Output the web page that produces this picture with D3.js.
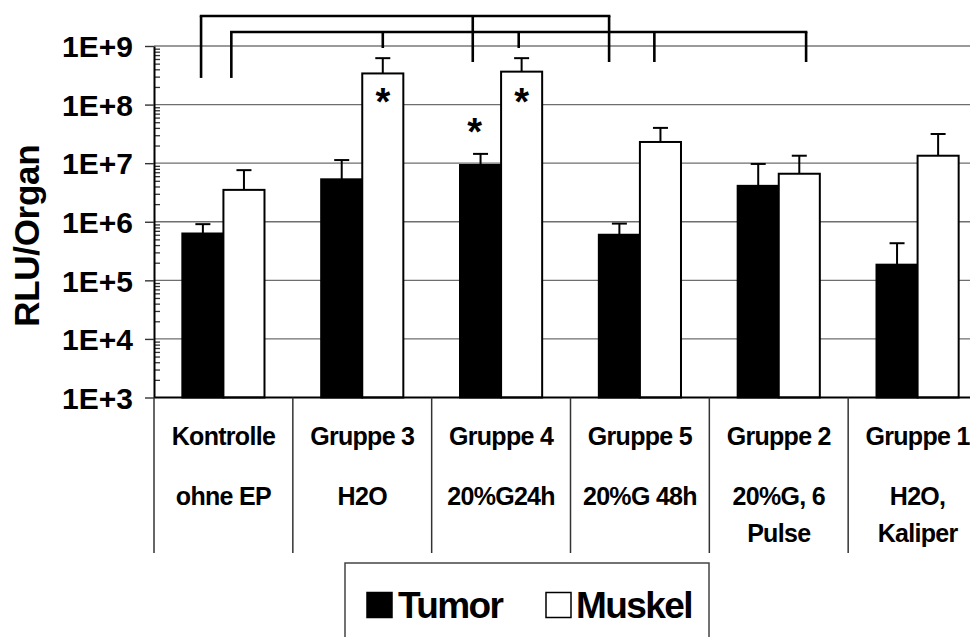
<!DOCTYPE html>
<html>
<head>
<meta charset="utf-8">
<script src="https://cdn.jsdelivr.net/npm/d3@7"></script>
<style>
  html, body { margin: 0; padding: 0; background: #fff; overflow: hidden; }
  svg { display: block; }
  text { font-family: "Liberation Sans", Arial, sans-serif; font-weight: bold; fill: #000; }
</style>
</head>
<body>
<svg id="chart" width="970" height="637"></svg>
<script>
// Group labels (one array entry per printed line)
const categoryLines = [
  ["Kontrolle", "ohne EP"],
  ["Gruppe 3", "H2O"],
  ["Gruppe 4", "20%G24h"],
  ["Gruppe 5", "20%G 48h"],
  ["Gruppe 2", "20%G, 6", "Pulse"],
  ["Gruppe 1", "H2O,", "Kaliper"]
];
const series = ["Tumor", "Muskel"];

// Mean RLU per organ and upper end of the error bar
const tumorMean   = [6.3e5, 5.3e6, 9.3e6, 6.0e5, 4.1e6, 1.85e5];
const tumorUpper  = [9.1e5, 1.13e7, 1.44e7, 9.3e5, 9.7e6, 4.3e5];
const muskelMean  = [3.5e6, 3.4e8, 3.65e8, 2.3e7, 6.6e6, 1.34e7];
const muskelUpper = [7.6e6, 6.2e8, 6.2e8, 4.0e7, 1.34e7, 3.15e7];

// Decade tick labels of the log axis
const majorTicks = [1e3, 1e4, 1e5, 1e6, 1e7, 1e8, 1e9];
const tickLabels = ["1E+3", "1E+4", "1E+5", "1E+6", "1E+7", "1E+8", "1E+9"];

// Significance markers: [group index, series, height]
const asterisks = [[1, "Muskel", 1.58e8], [2, "Muskel", 1.58e8], [2, "Tumor", 4.9e7]];

// Comparison brackets: bar position in group units, level of the bar and leg ends
const brackets = [
  { level: 3.25e9, legs: [[0.339, 2.85e8], [2.296, 5.33e8], [3.278, 5.33e8]] },
  { level: 1.73e9, legs: [[0.557, 2.85e8], [1.648, 9.25e8], [2.627, 9.25e8], [3.604, 5.33e8], [4.697, 5.33e8]] }
];

const svg = d3.select("#chart");
const plotLeft = 154, plotRight = 987, plotTop = 46, plotBottom = 397.5;

const y = d3.scaleLog().domain([1e3, 1e9]).range([plotBottom, plotTop]);
const x = d3.scaleBand().domain(d3.range(categoryLines.length)).range([plotLeft, plotRight]).padding(0);
const xs = d3.scaleBand().domain(series).range([0, x.bandwidth()]).paddingInner(0).paddingOuter(0.69);
const xu = d3.scaleLinear().domain([0, categoryLines.length]).range([plotLeft, plotRight]);

// Grid lines
svg.append("g").selectAll("line").data(majorTicks.slice(1)).join("line")
  .attr("x1", plotLeft).attr("x2", plotRight)
  .attr("y1", d => y(d)).attr("y2", d => y(d))
  .attr("stroke", (d, i) => i === 5 ? "#9a9a9a" : "#6e6e6e")
  .attr("stroke-width", (d, i) => i === 5 ? 2 : 1.4);

// Bars
const rows = [];
categoryLines.forEach((c, i) => {
  rows.push({ g: i, s: "Tumor", v: tumorMean[i], e: tumorUpper[i] });
  rows.push({ g: i, s: "Muskel", v: muskelMean[i], e: muskelUpper[i] });
});
const barX = d => x(d.g) + xs(d.s);
const barC = d => barX(d) + xs.bandwidth() / 2;

// Error bars (upper only)
const eb = svg.append("g").attr("stroke", "#000").attr("stroke-width", 2);
eb.selectAll("line.v").data(rows).join("line").attr("class", "v")
  .attr("x1", barC).attr("x2", barC)
  .attr("y1", d => y(d.v)).attr("y2", d => y(d.e));
eb.selectAll("line.c").data(rows).join("line").attr("class", "c")
  .attr("x1", d => barC(d) - 7.5).attr("x2", d => barC(d) + 7.5)
  .attr("y1", d => y(d.e)).attr("y2", d => y(d.e));

svg.append("g").selectAll("rect").data(rows).join("rect")
  .attr("x", barX)
  .attr("y", d => y(d.v))
  .attr("width", xs.bandwidth())
  .attr("height", d => y(1e3) - y(d.v))
  .attr("fill", d => d.s === "Tumor" ? "#000" : "#fff")
  .attr("stroke", "#000").attr("stroke-width", 2);

// Minor ticks (2..9 per decade), drawn inside the plot
const minor = [];
for (let k = 3; k < 9; k++) for (let m = 2; m <= 9; m++) minor.push(m * Math.pow(10, k));
svg.append("g").attr("transform", `translate(${plotLeft},0)`)
  .call(d3.axisRight(y).tickValues(minor).tickSize(6).tickFormat(""))
  .call(g => g.select(".domain").remove())
  .call(g => g.selectAll("line").attr("stroke", "#333").attr("stroke-width", 1.3));

// Y axis with decade labels
svg.append("g").attr("transform", `translate(${plotLeft},0)`)
  .call(d3.axisLeft(y).tickValues(majorTicks).tickSize(9).tickSizeOuter(0)
    .tickFormat((d, i) => tickLabels[i]))
  .call(g => g.select(".domain").attr("stroke", "#000").attr("stroke-width", 2))
  .call(g => g.selectAll("line").attr("stroke", "#333").attr("stroke-width", 1.4))
  .call(g => g.selectAll("text").attr("x", -21).attr("dy", "0.36em")
    .style("font-size", "30px").style("font-weight", "bold")
    .style("font-family", "'Liberation Sans', Arial, sans-serif").attr("fill", "#000"));

// X axis line and group separators
svg.append("line").attr("x1", plotLeft).attr("x2", plotRight).attr("y1", plotBottom).attr("y2", plotBottom)
  .attr("stroke", "#000").attr("stroke-width", 2);
svg.append("g").selectAll("line").data(d3.range(categoryLines.length + 1)).join("line")
  .attr("x1", d => xu(d)).attr("x2", d => xu(d))
  .attr("y1", plotBottom).attr("y2", 553)
  .attr("stroke", "#333").attr("stroke-width", 1.5);

// Group labels
const lineBase = [445, 505, 542];
categoryLines.forEach((lines, i) => {
  lines.forEach((t, j) => {
    svg.append("text")
      .attr("x", x(i) + x.bandwidth() / 2).attr("y", lineBase[j])
      .attr("text-anchor", "middle")
      .style("font-size", "25px").style("letter-spacing", "-0.7px")
      .text(t);
  });
});

// Y axis title
svg.append("text")
  .attr("transform", `translate(39,${(plotTop + plotBottom) / 2 + 14}) rotate(-90)`)
  .attr("text-anchor", "middle")
  .style("font-size", "35px").style("letter-spacing", "-0.3px")
  .text("RLU/Organ");

// Asterisks
svg.append("g").selectAll("text").data(asterisks).join("text")
  .attr("x", d => x(d[0]) + xs(d[1]) + xs.bandwidth() / 2 + (d[1] === "Tumor" ? -6 : 0))
  .attr("y", d => y(d[2]) + 22)
  .attr("text-anchor", "middle")
  .style("font-size", "38px")
  .text("*");

// Brackets
const bg = svg.append("g").attr("stroke", "#000").attr("stroke-width", 2.6).attr("fill", "none");
brackets.forEach(b => {
  const legX = b.legs.map(l => xu(l[0]));
  bg.append("line").attr("x1", d3.min(legX)).attr("x2", d3.max(legX))
    .attr("y1", y(b.level)).attr("y2", y(b.level)).attr("stroke-linecap", "square");
  b.legs.forEach(l => {
    bg.append("line").attr("x1", xu(l[0])).attr("x2", xu(l[0]))
      .attr("y1", y(b.level)).attr("y2", y(l[1]));
  });
});

// Legend
const lg = svg.append("g");
lg.append("rect").attr("x", 345).attr("y", 563).attr("width", 364).attr("height", 100)
  .attr("fill", "#fff").attr("stroke", "#444").attr("stroke-width", 1.5);
const legendItems = [
  { s: series[0], fill: "#000", sx: 367, tx: 398 },
  { s: series[1], fill: "#fff", sx: 546, tx: 576 }
];
legendItems.forEach(it => {
  lg.append("rect").attr("x", it.sx).attr("y", 592.5).attr("width", 25).attr("height", 25)
    .attr("fill", it.fill).attr("stroke", "#000").attr("stroke-width", 1.5);
  lg.append("text").attr("x", it.tx).attr("y", 617.5)
    .style("font-size", "37px").style("letter-spacing", "-1.6px")
    .text(it.s);
});
</script>
</body>
</html>
